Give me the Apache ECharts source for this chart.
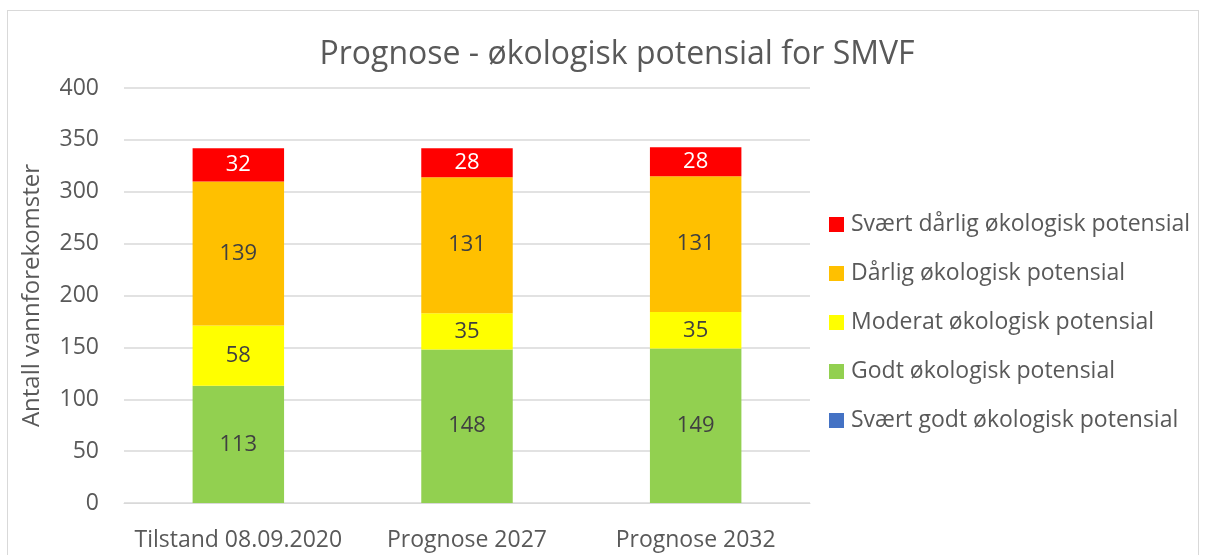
<!DOCTYPE html>
<html>
<head>
<meta charset="utf-8">
<script src="https://cdn.jsdelivr.net/npm/echarts@6/dist/echarts.min.js"></script>
<style>
  html, body { margin: 0; padding: 0; background: #fff; }
  #frame { position: absolute; left: 7px; top: 10px; width: 1192px; height: 560px; border: 1px solid #d9d9d9; box-sizing: border-box; }
  #chart { position: absolute; left: 0; top: 0; width: 1206px; height: 555px; }
</style>
</head>
<body>
<div id="frame"></div>
<div id="chart"></div>
<script>
// kategorier og verdier
var categories = ['Tilstand 08.09.2020', 'Prognose 2027', 'Prognose 2032'];
var sværtGodt = [0, 0, 0];
var godt = [113, 148, 149];
var moderat = [58, 35, 35];
var dårlig = [139, 131, 131];
var sværtDårlig = [32, 28, 28];
var yTicks = [0, 400, 50];

var font = 'Open Sans';
var textColor = '#595959';

function bar(name, data, color, labelColor) {
    return {
        name: name,
        type: 'bar',
        stack: 'total',
        barWidth: '40%',
        data: data,
        itemStyle: { color: color },
        label: {
            show: true,
            formatter: function (p) { return p.value > 0 ? p.value : ''; },
            color: labelColor,
            fontSize: 22,
            fontFamily: font
        }
    };
}

var myChart = echarts.init(document.getElementById('chart'));

var option = {
    animation: false,
    title: {
        text: 'Prognose - økologisk potensial for SMVF',
        left: 612,
        textAlign: 'center',
        top: 34,
        textStyle: { fontSize: 32, fontWeight: 'normal', color: textColor, fontFamily: font }
    },
    legend: {
        orient: 'vertical',
        left: 824,
        top: 208,
        itemGap: 26,
        itemWidth: 15,
        itemHeight: 15,
        icon: 'rect',
        textStyle: { fontSize: 23, color: textColor, fontFamily: font, padding: [0, 0, 0, 2] },
        data: ['Svært dårlig økologisk potensial', 'Dårlig økologisk potensial', 'Moderat økologisk potensial', 'Godt økologisk potensial', 'Svært godt økologisk potensial']
    },
    grid: { left: 124, right: 396, top: 88, bottom: 52 },
    xAxis: {
        type: 'category',
        data: categories,
        axisLine: { lineStyle: { color: '#d9d9d9' } },
        axisTick: { show: false },
        axisLabel: { fontSize: 23, color: textColor, fontFamily: font, margin: 26, interval: 0 }
    },
    yAxis: {
        type: 'value',
        min: yTicks[0],
        max: yTicks[1],
        interval: yTicks[2],
        name: 'Antall vannforekomster',
        nameLocation: 'middle',
        nameGap: 80,
        nameTextStyle: { fontSize: 24, color: textColor, fontFamily: font },
        axisLine: { show: false },
        axisTick: { show: false },
        splitLine: { lineStyle: { color: '#d9d9d9', width: 1.5 } },
        axisLabel: { fontSize: 23, color: textColor, fontFamily: font, margin: 25 }
    },
    series: [
        bar('Svært godt økologisk potensial', sværtGodt, '#4472c4', '#404040'),
        bar('Godt økologisk potensial', godt, '#92d050', '#404040'),
        bar('Moderat økologisk potensial', moderat, '#ffff00', '#404040'),
        bar('Dårlig økologisk potensial', dårlig, '#ffc000', '#404040'),
        bar('Svært dårlig økologisk potensial', sværtDårlig, '#ff0000', '#ffffff')
    ]
};

myChart.setOption(option);
</script>
</body>
</html>
